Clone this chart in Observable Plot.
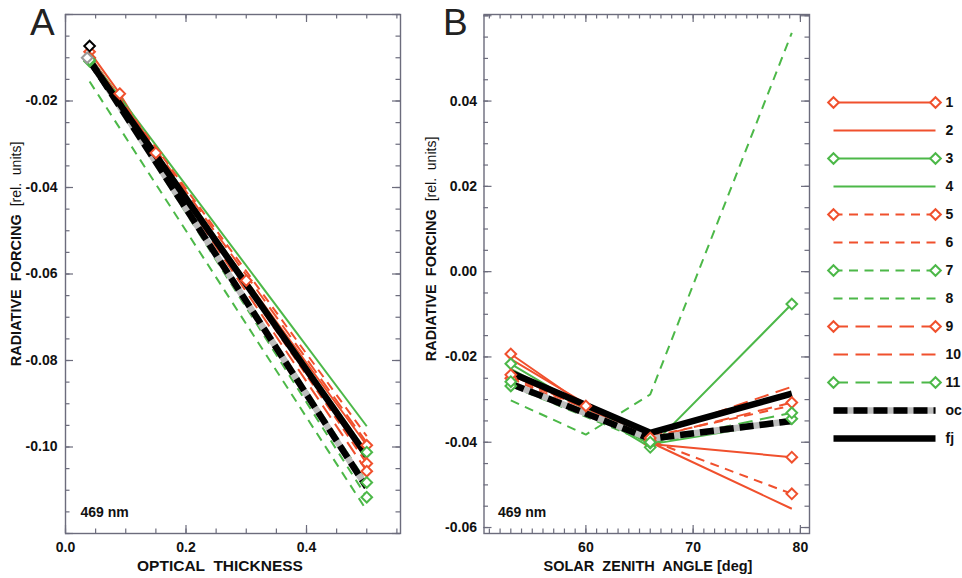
<!DOCTYPE html>
<html>
<head>
<meta charset="utf-8">
<script src="https://cdn.jsdelivr.net/npm/d3@7"></script>
<script src="https://cdn.jsdelivr.net/npm/@observablehq/plot@0.6"></script>
<style>
  html, body { margin: 0; padding: 0; background: #fff; }
  #wrap { position: relative; width: 962px; height: 578px; overflow: hidden; }
  .panel { position: absolute; top: 0; }
  #overlay { position: absolute; left: 0; top: 0; pointer-events: none; }
</style>
</head>
<body>
<div id="wrap"></div>
<script>
// ---------------- DATA ----------------
const seriesNames = ["1","2","3","4","5","6","7","8","9","10","11","oc","fj"];

// Panel A: radiative forcing vs optical thickness (469 nm)
const tauA = [0.04, 0.09, 0.15, 0.30, 0.50];
const A_1  = [-0.0086, -0.0183, -0.0320, -0.0615, -0.0996];
const A_2  = [-0.0095, null, null, null, -0.1030];
const A_3  = [-0.0100, null, null, null, -0.1012];
const A_4  = [-0.0098, null, null, null, -0.0952];
const A_5  = [-0.0100, null, null, null, -0.1038];
const A_6  = [-0.0098, null, null, null, -0.0975];
const A_7  = [-0.0108, null, null, null, -0.1116];
const A_8  = [-0.0155, null, null, null, -0.1147];
const A_9  = [-0.0102, null, null, null, -0.1056];
const A_10 = [-0.0099, null, null, null, -0.0990];
const A_11 = [-0.0105, null, null, null, -0.1082];
const A_oc = [-0.0105, null, null, null, -0.1093];
const A_fj = [-0.0108, null, null, null, -0.1020];
const valuesA = [A_1, A_2, A_3, A_4, A_5, A_6, A_7, A_8, A_9, A_10, A_11, A_oc, A_fj];
// isolated start symbols seen in panel A
const extraA_series = ["fj", "oc"];
const extraA_tau = [0.04, 0.036];
const extraA_val = [-0.0073, -0.0100];

// Panel B: radiative forcing vs solar zenith angle (469 nm)
const szaB = [53, 60, 66, 79.2];
const B_1  = [-0.0193, -0.0315, -0.0404, -0.0435];
const B_2  = [-0.0205, null, -0.0400, -0.0556];
const B_3  = [-0.0216, null, -0.0412, -0.0076];
const B_4  = [-0.0228, null, -0.0405, -0.0350];
const B_5  = [-0.0250, null, -0.0396, -0.0521];
const B_6  = [-0.0246, null, -0.0387, -0.0314];
const B_7  = [-0.0268, null, -0.0402, -0.0345];
const B_8  = [-0.0302, -0.0382, -0.0288, 0.0560];
const B_9  = [-0.0242, null, -0.0390, -0.0307];
const B_10 = [-0.0232, null, -0.0383, -0.0270];
const B_11 = [-0.0258, null, -0.0400, -0.0331];
const B_oc = [-0.0263, null, -0.0392, -0.0350];
const B_fj = [-0.0237, null, -0.0378, -0.0286];
const valuesB = [B_1, B_2, B_3, B_4, B_5, B_6, B_7, B_8, B_9, B_10, B_11, B_oc, B_fj];

// Tick labels
const xLabA = [0, 0.2, 0.4];
const yLabA = [-0.10, -0.08, -0.06, -0.04, -0.02];
const xLabB = [60, 70, 80];
const yLabB = [-0.06, -0.04, -0.02, 0.00, 0.02, 0.04];
const labelText = "469 nm";

// ---------------- STYLE ----------------
const RED = "#f0502d", GREEN = "#4cb848", GRAY = "#bdbdbd", AX = "#6c6c7c";
const SHORT = [9, 6.5], LONG = [14.5, 7.5], OCDASH = [14, 6];
const styleOf = {
  "1":  {stroke: RED,   dash: null,  mark: true,  w: 2},
  "2":  {stroke: RED,   dash: null,  mark: false, w: 2},
  "3":  {stroke: GREEN, dash: null,  mark: true,  w: 2},
  "4":  {stroke: GREEN, dash: null,  mark: false, w: 2},
  "5":  {stroke: RED,   dash: SHORT, mark: true,  w: 2},
  "6":  {stroke: RED,   dash: SHORT, mark: false, w: 2},
  "7":  {stroke: GREEN, dash: SHORT, mark: true,  w: 2},
  "8":  {stroke: GREEN, dash: SHORT, mark: false, w: 2},
  "9":  {stroke: RED,   dash: LONG,  mark: true,  w: 2},
  "10": {stroke: RED,   dash: LONG,  mark: false, w: 2},
  "11": {stroke: GREEN, dash: LONG,  mark: true,  w: 2},
  "oc": {stroke: "black", dash: OCDASH, mark: false, w: 6.5, under: GRAY},
  "fj": {stroke: "black", dash: null,  mark: false, w: 6.5}
};
const extraColor = {fj: "black", oc: "#9a9a9a"};

function toRows(xs, values) {
  return seriesNames.flatMap((s, i) =>
    xs.map((x, j) => ({s, x, y: values[i][j]})).filter(d => d.y != null));
}
const rowsA = toRows(tauA, valuesA);
const rowsB = toRows(szaB, valuesB);
const extraA = extraA_series.map((s, i) => ({s, x: extraA_tau[i], y: extraA_val[i]}));

function seriesMarks(rows, extra) {
  const out = [];
  for (const s of seriesNames) {
    const st = styleOf[s];
    const d = rows.filter(r => r.s === s);
    if (st.under) out.push(Plot.line(d, {x: "x", y: "y", stroke: st.under, strokeWidth: st.w, strokeLinecap: "butt"}));
    const o = {x: "x", y: "y", stroke: st.stroke, strokeWidth: st.w, strokeLinecap: "butt", strokeLinejoin: "miter"};
    if (st.dash) o.strokeDasharray = st.dash.join(",");
    out.push(Plot.line(d, o));
  }
  for (const s of seriesNames) {
    const st = styleOf[s];
    if (!st.mark) continue;
    out.push(Plot.dot(rows.filter(r => r.s === s), {x: "x", y: "y", symbol: "diamond2", r: 4.8, stroke: st.stroke, strokeWidth: 2, fill: "white"}));
  }
  if (extra) {
    for (const e of extra) {
      out.push(Plot.dot([e], {x: "x", y: "y", symbol: "diamond2", r: 4.8, stroke: extraColor[e.s], strokeWidth: 2, fill: "white"}));
    }
  }
  return out;
}

// inward ticks on all four sides, drawn as short rules along the frame
function boxAxes({w, h, xMaj, xMin, yMaj, yMin, xLab, yLab, xFmt, yFmt, yPad}) {
  const MA = 8, MI = 4.5;
  const r = {stroke: AX, strokeWidth: 1.2};
  const id = d => d;
  return [
    Plot.ruleX(xMin, {...r, x: id, insetTop: h - MI}),
    Plot.ruleX(xMin, {...r, x: id, insetBottom: h - MI}),
    Plot.ruleX(xMaj, {...r, x: id, insetTop: h - MA}),
    Plot.ruleX(xMaj, {...r, x: id, insetBottom: h - MA}),
    Plot.ruleY(yMin, {...r, y: id, insetRight: w - MI}),
    Plot.ruleY(yMin, {...r, y: id, insetLeft: w - MI}),
    Plot.ruleY(yMaj, {...r, y: id, insetRight: w - MA}),
    Plot.ruleY(yMaj, {...r, y: id, insetLeft: w - MA}),
    Plot.axisX(xLab, {anchor: "bottom", tickSize: 0, tickPadding: 9, tickFormat: xFmt, label: null, fill: "#111"}),
    Plot.axisY(yLab, {anchor: "left", tickSize: 0, tickPadding: yPad, tickFormat: yFmt, label: null, fill: "#111"}),
    Plot.frame({stroke: AX, strokeWidth: 1.4})
  ];
}

const plotStyle = {fontFamily: '"Liberation Sans", Arial, Helvetica, sans-serif', fontSize: "14px", fontWeight: "bold", color: "#111", background: "transparent", overflow: "visible"};
const f2 = d => (Math.abs(d) < 1e-9 ? 0 : d).toFixed(2);
const f1 = d => d.toFixed(1);
const f0 = d => d.toFixed(0);
const steps = (a, b, step) => d3.range(Math.round(a / step), Math.round(b / step) + 1).map(k => +(k * step).toFixed(6));

const H = 578, MT = 14, MB = 45;
const dimA = {width: 410, ml: 65, mr: 10};
const dimB = {width: 400, ml: 63.5, mr: 11};

const plotA = Plot.plot({
  width: dimA.width, height: H,
  marginTop: MT, marginBottom: MB, marginLeft: dimA.ml, marginRight: dimA.mr,
  style: plotStyle,
  x: {domain: [0, 0.556]},
  y: {domain: [-0.12, 0]},
  marks: [
    ...seriesMarks(rowsA, extraA),
    Plot.text([labelText], {frameAnchor: "bottom-left", dx: 15, dy: -17, textAnchor: "start", fontSize: 14, fontWeight: "bold", fill: "#111"}),
    ...boxAxes({
      w: dimA.width - dimA.ml - dimA.mr, h: H - MT - MB,
      xMaj: steps(0, 0.4, 0.2), xMin: steps(0, 0.55, 0.05),
      yMaj: steps(-0.12, 0, 0.02), yMin: steps(-0.12, 0, 0.005),
      xLab: xLabA, yLab: yLabA, xFmt: f1, yFmt: f2, yPad: 8
    })
  ]
});

const plotB = Plot.plot({
  width: dimB.width, height: H,
  marginTop: MT, marginBottom: MB, marginLeft: dimB.ml, marginRight: dimB.mr,
  style: plotStyle,
  x: {domain: [50.5, 80.85]},
  y: {domain: [-0.0614, 0.0603]},
  marks: [
    ...seriesMarks(rowsB, null),
    Plot.text([labelText], {frameAnchor: "bottom-left", dx: 14, dy: -17, textAnchor: "start", fontSize: 14, fontWeight: "bold", fill: "#111"}),
    ...boxAxes({
      w: dimB.width - dimB.ml - dimB.mr, h: H - MT - MB,
      xMaj: steps(60, 80, 10), xMin: steps(51, 80, 1),
      yMaj: steps(-0.06, 0.06, 0.02), yMin: steps(-0.06, 0.06, 0.005),
      xLab: xLabB, yLab: yLabB, xFmt: f0, yFmt: f2, yPad: 7
    })
  ]
});

// Legend (drawn with Plot as well)
const legendRows = seriesNames.flatMap(s => [{s, x: 0}, {s, x: 1}]);
const legendMarks = [];
for (const s of seriesNames) {
  const st = styleOf[s];
  const d = legendRows.filter(r => r.s === s);
  if (st.under) legendMarks.push(Plot.line(d, {x: "x", y: "s", stroke: st.under, strokeWidth: st.w, strokeLinecap: "butt"}));
  const o = {x: "x", y: "s", stroke: st.stroke, strokeWidth: st.w, strokeLinecap: "butt"};
  if (st.dash) o.strokeDasharray = st.dash.join(",");
  legendMarks.push(Plot.line(d, o));
  if (st.mark) legendMarks.push(Plot.dot(d, {x: "x", y: "s", symbol: "diamond2", r: 4.8, stroke: st.stroke, strokeWidth: 2, fill: "white"}));
}
legendMarks.push(Plot.text(seriesNames, {x: () => 1, y: d => d, text: d => d, dx: 10, textAnchor: "start", fontSize: 14, fontWeight: "bold", fill: "#111"}));
const legend = Plot.plot({
  width: 142, height: H,
  marginTop: 96, marginBottom: 135, marginLeft: 13, marginRight: 27,
  style: plotStyle,
  x: {domain: [0, 1], axis: null},
  y: {type: "point", domain: seriesNames, axis: null, padding: 0},
  marks: legendMarks
});

const wrap = document.getElementById("wrap");
function place(node, left) { node.classList.add("panel"); node.style.left = left + "px"; wrap.appendChild(node); }
place(plotA, 0);
place(plotB, 420);
place(legend, 820);

// Overlay with panel letters and axis titles
const ov = d3.select(wrap).append("svg").attr("id", "overlay").attr("width", 962).attr("height", 578)
  .style("font-family", '"Liberation Sans", Arial, Helvetica, sans-serif');
ov.append("text").attr("x", 30).attr("y", 35).attr("font-size", 37).attr("fill", "#222").text("A");
ov.append("text").attr("x", 443).attr("y", 35).attr("font-size", 37).attr("fill", "#222").text("B");
ov.append("text").attr("x", 220).attr("y", 571).attr("text-anchor", "middle").attr("font-size", 15.5).attr("font-weight", "bold").attr("fill", "#111").style("white-space", "pre").text("OPTICAL  THICKNESS");
ov.append("text").attr("x", 648).attr("y", 571).attr("text-anchor", "middle").attr("font-size", 14.5).attr("font-weight", "bold").attr("fill", "#111").style("white-space", "pre").text("SOLAR  ZENITH  ANGLE [deg]");
function yTitle(cx, cy) {
  const t = ov.append("text").attr("transform", `translate(${cx},${cy}) rotate(-90)`).attr("text-anchor", "middle")
    .attr("dominant-baseline", "central").attr("fill", "#111").style("white-space", "pre");
  t.append("tspan").attr("font-size", 14.5).attr("font-weight", "bold").text("RADIATIVE  FORCING  ");
  t.append("tspan").attr("font-size", 14).attr("font-weight", "normal").text("[rel.  units]");
}
yTitle(16, 254);
yTitle(431, 249);
</script>
</body>
</html>
